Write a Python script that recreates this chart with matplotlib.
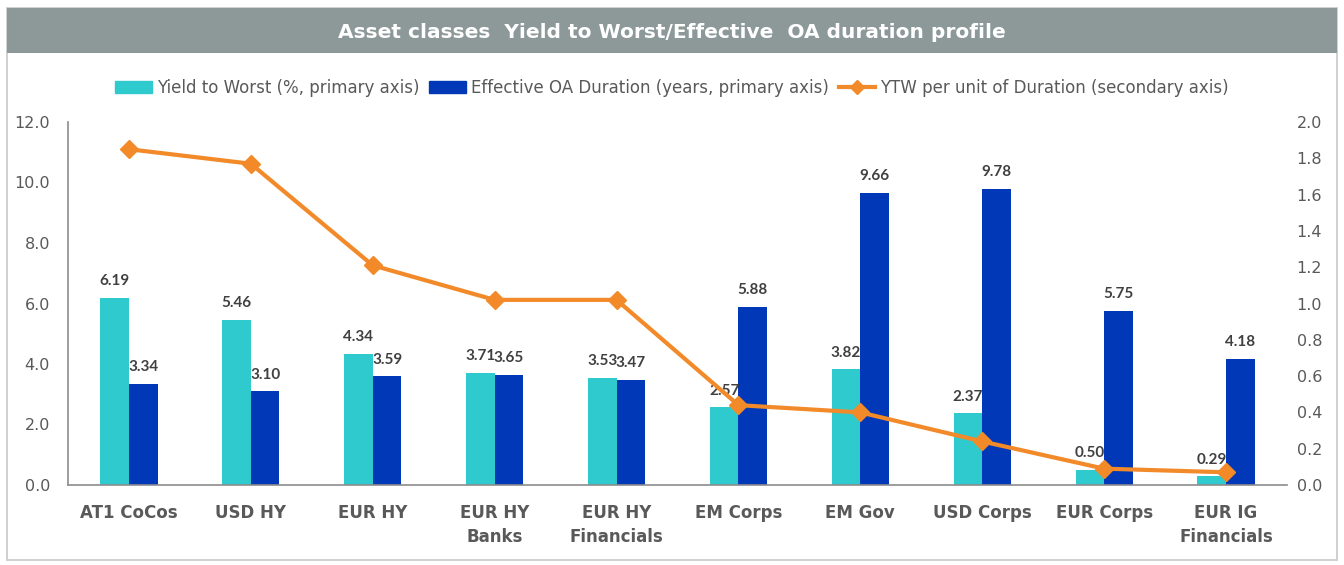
import numpy as np
import matplotlib.pyplot as plt
from matplotlib.patches import Rectangle, Patch
from matplotlib.lines import Line2D

plt.rcParams['font.family'] = ['DejaVu Sans']

categories = ['AT1 CoCos', 'USD HY', 'EUR HY', 'EUR HY\nBanks', 'EUR HY\nFinancials',
              'EM Corps', 'EM Gov', 'USD Corps', 'EUR Corps', 'EUR IG\nFinancials']
ytw = [6.19, 5.46, 4.34, 3.71, 3.53, 2.57, 3.82, 2.37, 0.50, 0.29]
duration = [3.34, 3.10, 3.59, 3.65, 3.47, 5.88, 9.66, 9.78, 5.75, 4.18]
ytw_per_dur = [1.85, 1.77, 1.21, 1.02, 1.02, 0.44, 0.40, 0.24, 0.09, 0.07]

CYAN = '#2ECACE'
BLUE = '#0038B8'
ORANGE = '#F28A2A'
GREY_TXT = '#595959'
LABEL_TXT = '#404040'

W, H = 1344, 565
fig = plt.figure(figsize=(W / 100, H / 100), dpi=100)

# outer frame and title band
fig.patches.append(Rectangle((7 / W, 1 - 560 / H), 1330 / W, 552 / H, transform=fig.transFigure,
                             facecolor='none', edgecolor='#C8C8C8', lw=1.2, zorder=-1))
fig.patches.append(Rectangle((7 / W, 1 - 53 / H), 1330 / W, 45 / H, transform=fig.transFigure,
                             facecolor='#8D9999', edgecolor='none', zorder=-1))
fig.text(0.5, 1 - 32 / H, 'Asset classes  Yield to Worst/Effective  OA duration profile',
         ha='center', va='center', color='white', fontsize=14.5, fontweight='bold')

ax = fig.add_axes([68 / W, 1 - 485 / H, (1287 - 68) / W, (485 - 122) / H])
ax.patch.set_alpha(0)
x = np.arange(len(categories))
bw = 0.235
b1 = ax.bar(x - bw / 2, ytw, bw, color=CYAN, zorder=2)
b2 = ax.bar(x + bw / 2, duration, bw, color=BLUE, zorder=2)
for bars in (b1, b2):
    ax.bar_label(bars, fmt='%.2f', padding=7, fontsize=11, fontweight='bold',
                 color=LABEL_TXT, family='Lato')

ax.set_xlim(-0.5, len(categories) - 0.5)
ax.set_ylim(0, 12)
ax.set_yticks(np.arange(0, 12.1, 2))
ax.set_yticklabels([f'{v:.1f}' for v in np.arange(0, 12.1, 2)])
ax.set_xticks(x)
ax.set_xticklabels(categories, fontsize=12, fontweight='bold', color=GREY_TXT, linespacing=1.4)
ax.tick_params(axis='y', length=0, labelsize=11.5, labelcolor=GREY_TXT, pad=13)
ax.tick_params(axis='x', length=0, pad=14)
for s in ['top', 'right']:
    ax.spines[s].set_visible(False)
for s in ['left', 'bottom']:
    ax.spines[s].set_color('#8C8C8C')
    ax.spines[s].set_linewidth(1.2)

ax2 = ax.twinx()
ax2.plot(x, ytw_per_dur, color=ORANGE, lw=3, marker='D', markersize=9, zorder=3)
ax2.set_ylim(0, 2.0)
ax2.set_yticks(np.arange(0, 2.01, 0.2))
ax2.set_yticklabels([f'{v:.1f}' for v in np.arange(0, 2.01, 0.2)])
ax2.tick_params(axis='y', length=0, labelsize=11.5, labelcolor=GREY_TXT, pad=7)
for s in ax2.spines.values():
    s.set_visible(False)

handles = [Patch(color=CYAN), Patch(color=BLUE),
           Line2D([], [], color=ORANGE, lw=3, marker='D', markersize=7)]
labels = ['Yield to Worst (%, primary axis)', 'Effective OA Duration (years, primary axis)',
          'YTW per unit of Duration (secondary axis)']
leg = fig.legend(handles, labels, loc='center', bbox_to_anchor=(0.5, 1 - 88 / H), ncol=3,
                 frameon=False, fontsize=12, handlelength=2.2, handletextpad=0.3, columnspacing=0.6)
for t in leg.get_texts():
    t.set_color(GREY_TXT)

fig.savefig('out.png', dpi=100)
